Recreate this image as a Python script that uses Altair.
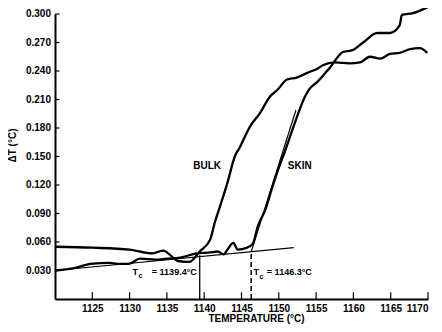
import altair as alt
import pandas as pd

# ---- data ----
bulk_x = [1120, 1125, 1130, 1133, 1134.5, 1136.5, 1138, 1139.4, 1140.8, 1141.4, 1142.1, 1143.1,
          1144.1, 1144.8, 1146.1, 1147.5, 1148.8, 1149.8, 1151.1, 1152.4, 1153.8, 1155.3, 1155.9,
          1157.5, 1159.5, 1160.9, 1162.2, 1163.6, 1164.9, 1166.2, 1167.6, 1168.9, 1169.9]
bulk_y = [0.055, 0.054, 0.052, 0.048, 0.051, 0.040, 0.039, 0.050, 0.0625, 0.080, 0.097, 0.122,
          0.150, 0.160, 0.181, 0.196, 0.213, 0.220, 0.231, 0.233, 0.238, 0.243, 0.246,
          0.249, 0.248, 0.249, 0.255, 0.253, 0.258, 0.259, 0.263, 0.264, 0.259]

skin_x = [1120, 1122.9, 1124.7, 1127.4, 1128.3, 1129.9, 1131.4, 1133.5, 1135, 1136.8, 1139, 1140.8,
          1141.8, 1142.6, 1143.2, 1143.9, 1144.5, 1145.7, 1146.5, 1147.2, 1148.2, 1149.1, 1150.0,
          1150.8, 1151.6, 1152.4, 1153.5, 1154.2, 1155.1, 1156.9, 1158.6, 1159.9, 1161.3, 1163.2,
          1164.9, 1166.2, 1166.5, 1168.0, 1169.9]
skin_y = [0.030, 0.033, 0.037, 0.038, 0.037, 0.037, 0.0425, 0.0415, 0.0425, 0.0436, 0.048, 0.049,
          0.050, 0.047, 0.053, 0.059, 0.052, 0.054, 0.058, 0.077, 0.094, 0.117, 0.138,
          0.155, 0.173, 0.191, 0.213, 0.222, 0.228, 0.244, 0.260, 0.262, 0.270, 0.280,
          0.280, 0.288, 0.299, 0.301, 0.307]

base_tan_x = [1120, 1152]
base_tan_y = [0.030, 0.054]
skin_tan_x = [1146.3, 1152.3]
skin_tan_y = [0.0497, 0.199]

tc_values = [1139.4, 1146.3]
tc_tops = [0.046, 0.050]

x_ticks = [1125, 1130, 1135, 1140, 1145, 1150, 1155, 1160, 1165, 1170]
y_ticks = [0.030, 0.060, 0.090, 0.120, 0.150, 0.180, 0.210, 0.240, 0.270, 0.300]
y_tick_labels = ["0.030", "0.060", "0.090", "0.120", "0.150", "0.180", "0.210", "0.240", "0.270", "0.300"]

FONT = "Liberation Sans"

xs = alt.Scale(domain=[1120, 1170], nice=False, zero=False)
ys = alt.Scale(domain=[0, 0.3], nice=False, zero=False)

X = alt.X("x:Q", scale=xs, axis=alt.Axis(
    values=x_ticks, ticks=False, grid=False, labelPadding=4, format="d", labelOverlap=False,
    title="TEMPERATURE (°C)", titleX=201, titleY=22, titleBaseline="alphabetic",
    titleAnchor="start", titleAlign="center"))
Y = alt.Y("y:Q", scale=ys, axis=alt.Axis(
    ticks=False, grid=False, labels=False,
    title="ΔT (°C)", titleX=-43, titleY=131, titleAngle=-90, titleBaseline="middle",
    titleAlign="center"))

def line_layer(xv, yv, width, dash=None):
    df = pd.DataFrame({"x": xv, "y": yv})
    kw = dict(color="black", strokeWidth=width, clip=False, interpolate="monotone")
    if dash:
        kw["strokeDash"] = dash
    return alt.Chart(df).mark_line(**kw).encode(x=alt.X("x:Q", scale=xs), y=alt.Y("y:Q", scale=ys))

axes_base = alt.Chart(pd.DataFrame({"x": [1120], "y": [0]})).mark_point(opacity=0).encode(x=X, y=Y)

bulk = line_layer(bulk_x, bulk_y, 2.3)
skin = line_layer(skin_x, skin_y, 2.3)
tan1 = line_layer(base_tan_x, base_tan_y, 1.2)
tan2 = line_layer(skin_tan_x, skin_tan_y, 1.2)

vdf = pd.DataFrame({"x": tc_values, "y0": [0, 0], "y1": tc_tops})
v1 = alt.Chart(vdf.iloc[[0]]).mark_rule(color="black", strokeWidth=1.3).encode(
    x=alt.X("x:Q", scale=xs), y=alt.Y("y0:Q", scale=ys), y2="y1:Q")
v2 = alt.Chart(vdf.iloc[[1]]).mark_rule(color="black", strokeWidth=1.5, strokeDash=[5, 3]).encode(
    x=alt.X("x:Q", scale=xs), y=alt.Y("y0:Q", scale=ys), y2="y1:Q")

xt = pd.DataFrame({"x": x_ticks, "y0": [0] * len(x_ticks), "y1": [0.007] * len(x_ticks)})
xtick = alt.Chart(xt).mark_rule(color="black", strokeWidth=1.2).encode(
    x=alt.X("x:Q", scale=xs), y=alt.Y("y0:Q", scale=ys), y2="y1:Q")
yt = pd.DataFrame({"y": y_ticks, "x0": [1120] * len(y_ticks), "x1": [1120.6] * len(y_ticks),
                   "lab": y_tick_labels})
ytick = alt.Chart(yt).mark_rule(color="black", strokeWidth=1.2).encode(
    y=alt.Y("y:Q", scale=ys), x=alt.X("x0:Q", scale=xs), x2="x1:Q")
ylabels = alt.Chart(yt).mark_text(font=FONT, fontWeight="bold", fontSize=10, align="right",
                                  baseline="middle", dx=-4, color="black").encode(
    y=alt.Y("y:Q", scale=ys), x=alt.X("x0:Q", scale=xs), text="lab:N")

def text_layer(x, y, txt, size=9, align="left"):
    df = pd.DataFrame({"x": [x], "y": [y], "t": [txt]})
    return alt.Chart(df).mark_text(font=FONT, fontWeight="bold", fontSize=size, align=align,
                                   baseline="middle", color="black").encode(
        x=alt.X("x:Q", scale=xs), y=alt.Y("y:Q", scale=ys), text="t:N")

labels = [
    text_layer(1140.4, 0.140, "BULK", size=10, align="center"),
    text_layer(1152.8, 0.140, "SKIN", size=10, align="center"),
    text_layer(1130.4, 0.0289, "T"),
    text_layer(1131.2, 0.0240, "c", size=7),
    text_layer(1139.0, 0.0289, "= 1139.4°C", align="right"),
    text_layer(1146.6, 0.0280, "T"),
    text_layer(1147.4, 0.0231, "c", size=7),
    text_layer(1148.4, 0.0280, "= 1146.3°C"),
]

chart = alt.layer(axes_base, tan1, tan2, v1, v2, xtick, ytick, ylabels, bulk, skin, *labels).properties(
    width=373, height=285,
    autosize=alt.AutoSizeParams(type="none"),
    padding={"left": 47, "top": 6, "right": 6, "bottom": 25},
).configure_view(stroke=None).configure_axis(
    domainColor="black", domainWidth=2, labelColor="black", titleColor="black",
    labelFont=FONT, titleFont=FONT, labelFontWeight="bold", titleFontWeight="bold",
    labelFontSize=10, titleFontSize=10,
)

chart.save("out.html", embed_options={"renderer": "svg", "actions": False})
